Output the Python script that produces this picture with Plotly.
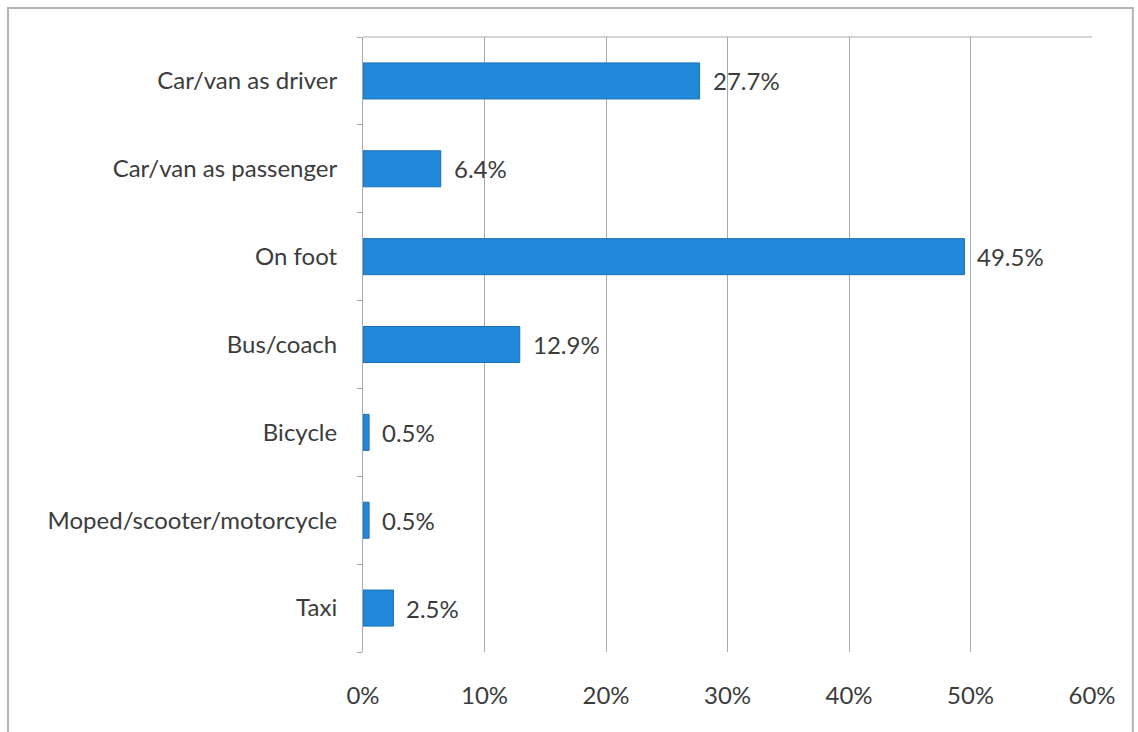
import plotly.graph_objects as go

# Mode of travel and share of trips (%)
modes = [
    "Car/van as driver",
    "Car/van as passenger",
    "On foot",
    "Bus/coach",
    "Bicycle",
    "Moped/scooter/motorcycle",
    "Taxi",
]
shares = [27.7, 6.4, 49.5, 12.9, 0.5, 0.5, 2.5]
x_ticks = [0, 10, 20, 30, 40, 50, 60]
x_tick_labels = ["0%", "10%", "20%", "30%", "40%", "50%", "60%"]

FONT = "Lato, 'Open Sans', sans-serif"
TEXT = "#3c3c3c"
GRID = "#a9a9b4"
FS = 24

fig = go.Figure(
    go.Bar(
        y=modes,
        x=shares,
        orientation="h",
        width=0.41,
        marker=dict(color="#2189d9", line=dict(color="#1b6fb3", width=1)),
        hoverinfo="skip",
    )
)

# value labels to the right of each bar
for m, v in zip(modes, shares):
    fig.add_annotation(
        x=v, y=m, xref="x", yref="y",
        text=f"{v:.1f}%", showarrow=False,
        xanchor="left", xshift=11,
        font=dict(family=FONT, size=FS, color=TEXT),
    )

# top edge of the plot area
fig.add_shape(type="line", xref="x", yref="paper", x0=-0.4, x1=60, y0=1, y1=1,
              line=dict(color=GRID, width=1))
# chart frame
fig.add_shape(type="rect", xref="paper", yref="paper",
              x0=-0.487, x1=1.056, y0=-0.2, y1=1.047,
              line=dict(color="#b4b4b4", width=2))

fig.update_layout(
    width=1138, height=732,
    margin=dict(l=363, r=46, t=37, b=80),
    paper_bgcolor="white", plot_bgcolor="white",
    showlegend=False,
    font=dict(family=FONT, size=FS, color=TEXT),
    xaxis=dict(
        range=[0, 60], tickvals=x_ticks, ticktext=x_tick_labels,
        showgrid=True, gridcolor=GRID, gridwidth=1,
        zeroline=False, showline=False,
        ticks="outside", ticklen=22, tickcolor="rgba(0,0,0,0)",
        tickfont=dict(family=FONT, size=FS, color=TEXT),
        fixedrange=True,
    ),
    yaxis=dict(
        categoryorder="array", categoryarray=modes[::-1],
        showline=True, linecolor=GRID, linewidth=1,
        ticks="outside", tickson="boundaries", ticklen=5, tickcolor=GRID,
        ticklabelstandoff=20,
        showgrid=False,
        tickfont=dict(family=FONT, size=FS, color=TEXT),
        fixedrange=True,
    ),
)

fig.write_html("out.html")
